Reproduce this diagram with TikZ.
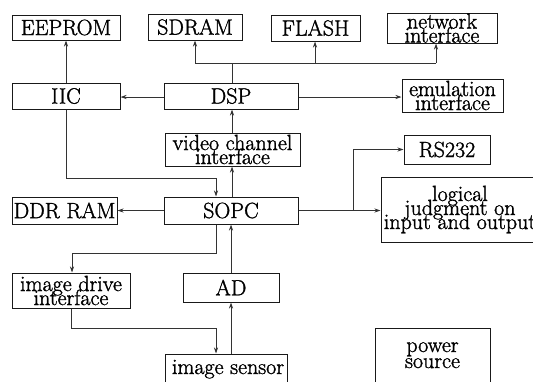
\documentclass[tikz,border=0pt]{standalone}
\usepackage{fontspec}
\usetikzlibrary{arrows.meta,calc}
\newfontfamily\boxfont{Latin Modern Roman}[FakeBold=1.4]
\newcommand\tightlines[1]{\boxfont\fontsize{22}{#1}\selectfont\lineskiplimit=-40pt\lineskip=0pt}
\begin{document}
\begin{tikzpicture}[x=1pt,y=-1pt,
  box/.style={draw=black!90,line width=1pt,inner sep=0pt,align=center,
    font=\tightlines{14}},
  lbl/.style={inner sep=0pt,align=center,font=\tightlines{14}},
  link/.style={draw=black!80,line width=0.8pt},
  arr/.style={link,-{Stealth[length=6pt,width=4pt]}}]
\useasboundingbox (0,0) rectangle (533,381);
\clip (0,0) rectangle (533,381);
% top row
\node[box,minimum width=108,minimum height=25] (eeprom) at (66,27.5) {EEPROM};
\node[box,minimum width=94,minimum height=26] (sdram) at (195,27) {SDRAM};
\node[box,minimum width=89,minimum height=26] (flash) at (315.5,28) {FLASH};
\node[box,minimum width=110,minimum height=30] (net) at (442,28) {network\\interface};
% DSP row
\node[box,minimum width=108,minimum height=26] (iic) at (66,96) {IIC};
\node[box,minimum width=134,minimum height=26] (dsp) at (231,96) {DSP};
\node[box,minimum width=101,minimum height=33] (emu) at (452.5,95.5) {emulation\\interface};
% video / RS232
\node[box,minimum width=135,minimum height=33] (video) at (232.5,149.5) {video channel\\interface};
\node[box,minimum width=86,minimum height=29] (rs) at (447,149.5) {RS232};
% SOPC row
\node[box,minimum width=105,minimum height=27] (ddr) at (64.5,210.5) {DDR RAM};
\node[box,minimum width=164,minimum height=65] (logic) at (463,209.5) {};
\node[lbl,anchor=base] (logiclbl) at (460,229) {logical\\judgment on\\input and output};
\node[box,minimum width=134,minimum height=27] (sopc) at (231,210.5) {SOPC};
% lower part
\node[box,minimum width=118,minimum height=35] (drive) at (71,290.5) {image drive\\interface};
\node[box,minimum width=96,minimum height=29] (ad) at (231,287.5) {AD};
\node[box,minimum width=122,minimum height=40] (sensor) at (226,374) {};
\node[lbl,anchor=base] (sensorlbl) at (228,374) {image sensor};
\node[box,minimum width=115,minimum height=70] (power) at (432.5,363) {};
\node[lbl,anchor=base,font=\tightlines{16}] (powerlbl) at (432.5,368) {power\\source};
% bus above the DSP
\coordinate (busL) at (195,63);
\coordinate (busR) at (436,63);
\coordinate (busF) at (315,63);
\coordinate (busD) at (232,63);
\draw[link] (dsp.north -| busD) -- (busD);
\draw[link] (busL) -- (busR);
\draw[arr] (busL) -- (busL |- sdram.south);
\draw[arr] (busF) -- (busF |- flash.south);
\draw[arr] (busR) -- (busR |- net.south);
% IIC and DSP links
\draw[arr] (iic.north) -- (eeprom.south);
\draw[arr] (dsp.west |- 0,97) -- (iic.east |- 0,97);
\draw[arr] (dsp.east |- 0,97) -- (emu.west |- 0,97);
\draw[arr] (video.north -| busD) -- (dsp.south -| busD);
% IIC down to SOPC
\coordinate (iicA) at (66,178);
\coordinate (iicB) at (216,178);
\draw[arr] (iic.south) -- (iicA) -- (iicB) -- (sopc.north -| iicB);
\draw[arr] (sopc.north -| busD) -- (video.south -| busD);
\draw[arr] (sopc.west) -- (ddr.east);
% SOPC to RS232 and logic
\coordinate (fork) at (353,210.5);
\draw[arr] (sopc.east) -- (fork) -- (logic.west |- fork);
\draw[arr] (fork) -- (fork |- rs.west) -- (rs.west);
% SOPC to image drive interface
\coordinate (sdA) at (216,253);
\coordinate (sdB) at (72,253);
\draw[arr] (sopc.south -| sdA) -- (sdA) -- (sdB) -- (sdB |- drive.north);
\draw[arr] (ad.north -| 231,0) -- (sopc.south -| 231,0);
% image drive interface to sensor
\coordinate (dsA) at (71,328);
\coordinate (dsB) at (216,328);
\draw[arr] (drive.south -| dsA) -- (dsA) -- (dsB) -- (sensor.north -| dsB);
\draw[arr] (sensor.north -| 231,0) -- (ad.south -| 231,0);
\end{tikzpicture}
\end{document}
